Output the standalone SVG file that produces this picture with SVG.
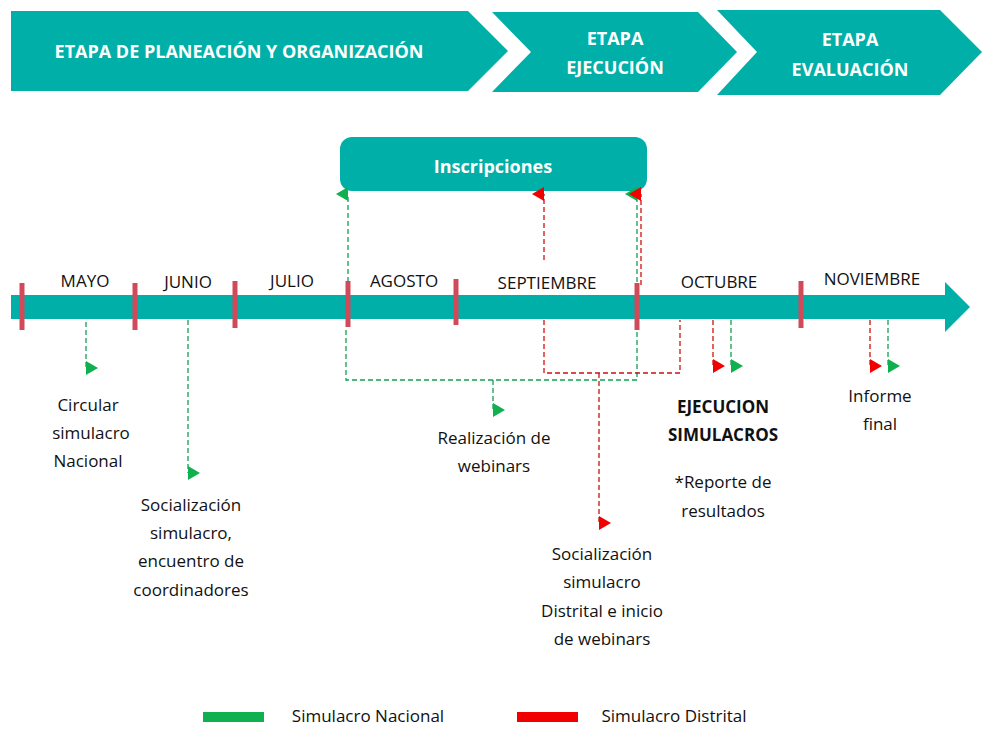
<svg xmlns="http://www.w3.org/2000/svg" width="991" height="733" viewBox="0 0 991 733">
<defs>
<style>
.t{font-family:"Open Sans",sans-serif;font-size:17px;fill:#111;text-anchor:middle}
.h{font-family:"Open Sans",sans-serif;font-size:18px;font-weight:bold;fill:#fff;text-anchor:middle}
.b{font-weight:bold}
.teal{fill:#00B0A8}
.tick{stroke:#D04A5A;stroke-width:5}
.g{stroke:#10A050;stroke-width:1.3;stroke-dasharray:5,3;fill:none}
.r{stroke:#D01010;stroke-width:1.3;stroke-dasharray:5,3;fill:none}
</style>
<marker id="ag" markerWidth="14" markerHeight="12" refX="7" refY="12" viewBox="0 0 14 12" orient="auto-start-reverse" markerUnits="userSpaceOnUse"><path d="M0,12 L7,0 L14,12 z" fill="#10B050"/></marker>
<marker id="ar" markerWidth="14" markerHeight="12" refX="7" refY="12" viewBox="0 0 14 12" orient="auto-start-reverse" markerUnits="userSpaceOnUse"><path d="M0,12 L7,0 L14,12 z" fill="#F00000"/></marker>
</defs>
<rect width="991" height="733" fill="#fff"/>
<g id="stage1"><path class="teal" d="M11,11 H468 L508,51 L468,91 H11 Z"/><text class="h" x="239" y="58">ETAPA DE PLANEACIÓN Y ORGANIZACIÓN</text></g>
<g id="stage2"><path class="teal" d="M492,12 H698 L737,52 L698,92 H492 L531,52 Z"/><text class="h" x="615" y="45">ETAPA</text><text class="h" x="615" y="74">EJECUCIÓN</text></g>
<g id="stage3"><path class="teal" d="M717,10 H940 L982,52 L940,95 H717 L757,52 Z"/><text class="h" x="850" y="46">ETAPA</text><text class="h" x="850" y="76">EVALUACIÓN</text></g>
<g id="timeline"><path class="teal" d="M11,295 H945 V282 L970,307 L945,332 V319 H11 Z"/>
<line class="tick" x1="22" y1="283" x2="22" y2="330"/><line class="tick" x1="135" y1="283" x2="135" y2="330"/><line class="tick" x1="235" y1="281" x2="235" y2="328"/><line class="tick" x1="348" y1="281" x2="348" y2="327"/><line class="tick" x1="456" y1="279" x2="456" y2="325"/><line class="tick" x1="637" y1="283" x2="637" y2="330"/><line class="tick" x1="801" y1="281" x2="801" y2="328"/>
<text class="t" x="85" y="287">MAYO</text><text class="t" x="188" y="288">JUNIO</text><text class="t" x="292" y="287">JULIO</text><text class="t" x="404" y="287">AGOSTO</text><text class="t" x="547" y="289">SEPTIEMBRE</text><text class="t" x="719" y="288">OCTUBRE</text><text class="t" x="872" y="285">NOVIEMBRE</text></g>
<g id="inscripciones"><rect class="teal" x="340" y="137" width="307" height="54" rx="12"/><text class="h" x="493" y="173">Inscripciones</text></g>
<g id="connectors">
<path class="g" d="M86,322 V368" marker-end="url(#ag)"/>
<path class="g" d="M188,320 V473" marker-end="url(#ag)"/>
<path class="g" d="M346,330 V380 H637 V330"/>
<path class="g" d="M348,282 V194" marker-end="url(#ag)"/>
<path class="g" d="M637,282 V194" marker-end="url(#ag)"/>
<path class="g" d="M493,380 V410" marker-end="url(#ag)"/>
<path class="r" d="M544,320 V373 H680 V320"/>
<path class="r" d="M599,373 V523" marker-end="url(#ar)"/>
<path class="r" d="M544,260 V194" marker-end="url(#ar)"/>
<path class="r" d="M641,285 V194" marker-end="url(#ar)"/>
<path class="r" d="M713,320 V366" marker-end="url(#ar)"/>
<path class="g" d="M731,320 V366" marker-end="url(#ag)"/>
<path class="r" d="M870,320 V366" marker-end="url(#ar)"/>
<path class="g" d="M888,320 V366" marker-end="url(#ag)"/>
</g>
<g id="labels">
<text class="t" x="88" y="411">Circular</text><text class="t" x="91" y="439">simulacro</text><text class="t" x="88" y="467">Nacional</text>
<text class="t" x="191" y="511">Socialización</text><text class="t" x="191" y="539">simulacro,</text><text class="t" x="191" y="567">encuentro de</text><text class="t" x="191" y="596">coordinadores</text>
<text class="t" x="494" y="444">Realización de</text><text class="t" x="494" y="472">webinars</text>
<text class="t" x="602" y="560">Socialización</text><text class="t" x="602" y="588">simulacro</text><text class="t" x="602" y="617">Distrital e inicio</text><text class="t" x="602" y="645">de webinars</text>
<text class="t b" x="723" y="413">EJECUCION</text><text class="t b" x="723" y="441">SIMULACROS</text>
<text class="t" x="723" y="488">*Reporte de</text><text class="t" x="723" y="517">resultados</text>
<text class="t" x="880" y="402">Informe</text><text class="t" x="880" y="430">final</text>
</g>
<g id="legend">
<rect x="203" y="712" width="61" height="10" fill="#10B050"/><text class="t" x="368" y="722">Simulacro Nacional</text>
<rect x="517" y="712" width="61" height="10" fill="#F00000"/><text class="t" x="674" y="722">Simulacro Distrital</text>
</g>
</svg>
